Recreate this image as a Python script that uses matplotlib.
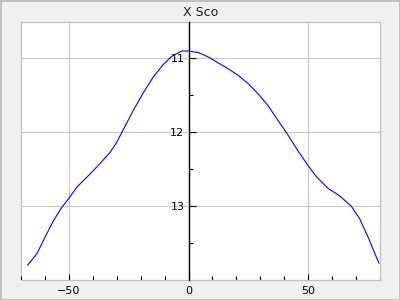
import matplotlib
matplotlib.use('Agg')
import matplotlib.pyplot as plt
from matplotlib.ticker import MultipleLocator, FixedLocator

# phase (days) and magnitude
phase = [-67.2, -63.3, -59.8, -56.3, -52.8, -50.1, -46.6, -41.0, -36.9, -32.7,
         -29.9, -27.2, -23.0, -18.8, -14.7, -10.5, -7.0, -2.8, 0.0, 4.1,
         8.25, 12.4, 16.6, 20.75, 24.9, 29.1, 33.25, 37.4, 41.2, 45.1,
         49.9, 53.4, 58.3, 63.1, 68.0, 71.5, 74.9, 79.5]
mag = [13.80, 13.64, 13.41, 13.19, 13.01, 12.90, 12.74, 12.56, 12.42, 12.27,
       12.13, 11.96, 11.70, 11.46, 11.25, 11.08, 10.97, 10.90, 10.90, 10.92,
       10.98, 11.06, 11.14, 11.23, 11.34, 11.48, 11.64, 11.84, 12.02, 12.22,
       12.45, 12.60, 12.76, 12.86, 13.00, 13.17, 13.41, 13.77]
title = 'X Sco'

fig = plt.figure(figsize=(4, 3), dpi=100)
fig.patch.set_facecolor('#f0f0f0')
fig.patch.set_edgecolor('#c0c0c0')
fig.patch.set_linewidth(2)

ax = fig.add_axes([0.0525, 0.0667, 0.8975, 0.8616])
ax.plot(phase, mag, color='#0000ff', linewidth=0.8)

ax.set_xlim(-70, 80)
ax.set_ylim(14, 10.5)
ax.set_title(title, fontsize=9, color='#202020', pad=4)

ax.xaxis.set_major_locator(FixedLocator([-50, 0, 50]))
ax.xaxis.set_minor_locator(MultipleLocator(10))
ax.yaxis.set_major_locator(FixedLocator([11, 12, 13]))
ax.yaxis.set_minor_locator(FixedLocator([11.5, 12.5, 13.5]))
ax.grid(True, which='major', color='#c8c8c8', linewidth=0.8)

for s in ['top', 'right', 'bottom']:
    ax.spines[s].set_color('#c0c0c0')
    ax.spines[s].set_linewidth(0.8)
ax.spines['left'].set_position(('data', 0))
ax.spines['left'].set_color('black')
ax.spines['left'].set_linewidth(1)
ax.spines['left'].set_zorder(3)
ax.patch.set_edgecolor('#c0c0c0')
ax.patch.set_linewidth(0.8)

ax.tick_params(axis='x', which='major', direction='in', length=4, width=0.8,
               color='black', labelsize=8, pad=4)
ax.tick_params(axis='x', which='minor', direction='in', length=3, width=0.8,
               color='black')
ax.tick_params(axis='y', which='major', direction='in', length=5, width=0.8,
               labelsize=8, pad=3)
ax.tick_params(axis='y', which='minor', direction='in', length=3, width=0.8)

fig.savefig('out.png', dpi=100, facecolor=fig.get_facecolor(),
            edgecolor=fig.get_edgecolor())
